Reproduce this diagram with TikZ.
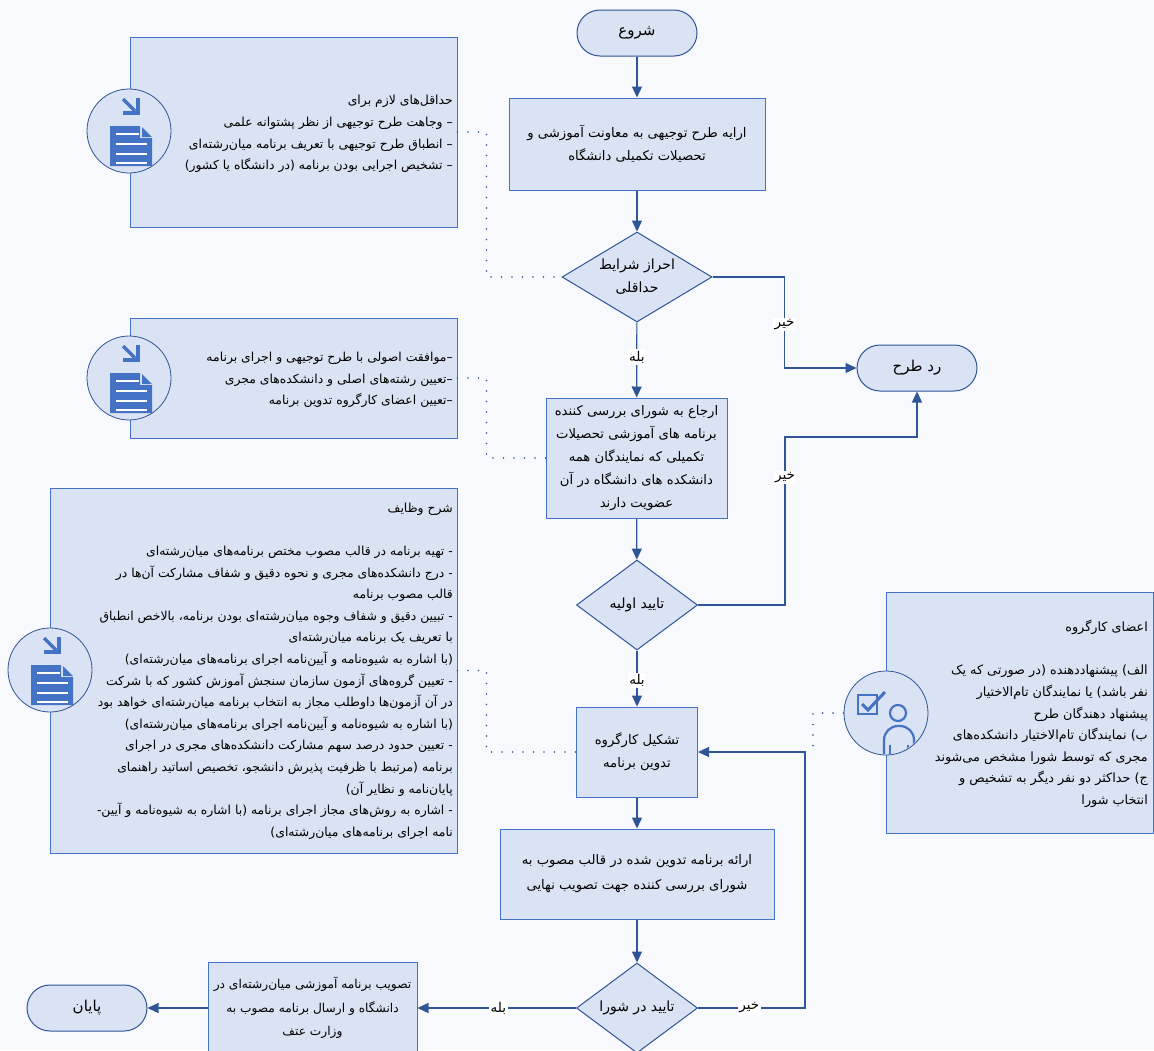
\documentclass[tikz,border=0pt]{standalone}
\usepackage{fontspec}
\usepackage{tikz}
\usetikzlibrary{arrows.meta,shapes.geometric}
\TeXXeTstate=1
\newfontfamily\farsi[Script=Arabic]{DejaVu Sans}
\newcommand{\fa}[1]{\beginR #1\endR}

\definecolor{bgc}{RGB}{247,249,252}
\definecolor{boxfill}{RGB}{218,227,243}
\definecolor{boxline}{RGB}{68,114,196}
\definecolor{linec}{RGB}{47,85,151}
\definecolor{iconc}{RGB}{68,114,196}

\tikzset{
  every node/.style={font=\farsi\fontsize{13.2}{23}\selectfont, text=black},
  proc/.style={draw=boxline, fill=boxfill, line width=1pt, align=center, inner sep=0pt},
  term/.style={draw=linec, fill=boxfill, line width=1pt, rounded corners=23pt, minimum width=120pt, minimum height=46pt, font=\farsi\fontsize{15}{18}\selectfont},
  decision/.style={diamond, aspect=1.667, draw=linec, fill=boxfill, line width=1pt, align=center, inner sep=-4pt, minimum height=90pt, font=\farsi\fontsize{14}{23}\selectfont},
  note/.style={draw=boxline, fill=boxfill, line width=1pt, inner sep=0pt},
  notetext/.style={align=right, anchor=east, inner sep=0pt, font=\farsi\fontsize{12.4}{21.6}\selectfont},
  iconring/.style={circle, draw=linec, fill=boxfill, line width=0.8pt, minimum size=84pt, inner sep=0pt},
  arr/.style={draw=linec, line width=1.2pt, -{Triangle[length=11pt,width=10pt]}},
  dots/.style={draw=linec, line width=1.8pt, line cap=round, dash pattern=on 0pt off 10.5pt},
  tag/.style={fill=white, inner sep=1.5pt, font=\farsi\fontsize{13.5}{15}\selectfont},
}

% document icon inside a ring
\newcommand{\docicon}[1]{%
  \begin{scope}[shift={(#1)}]
    \fill[iconc] (-19,-5) -- (11,-5) -- (11,7) -- (23,7) -- (23,35) -- (-19,35) -- cycle;
    \fill[iconc] (13,-4) -- (23,6) -- (13,6) -- cycle;
    \draw[white, line width=1.6pt] (-13,3) -- (10,3) (-13,13) -- (18,13) (-13,23) -- (18,23) (-13,32) -- (18,32);
    \draw[iconc, line width=3.5pt] (-6,-32) -- (6,-20);
    \draw[iconc, line width=3.5pt] (-6,-18) -- (9,-18) -- (9,-33);
  \end{scope}}

% check box and person icon
\newcommand{\personicon}[1]{%
  \begin{scope}[shift={(#1)}]
    \draw[iconc, line width=2.2pt] (-28,-18) rectangle (-9,1);
    \draw[iconc, line width=3pt] (-24,-9) -- (-18,-3) -- (-1,-21);
    \draw[iconc, line width=2.2pt] (12,0) circle (8pt);
    \begin{scope}
      \clip (0,0) circle (41pt);
      \draw[iconc, line width=2.2pt, rounded corners=14pt] (-2,50) -- (-2,13) -- (28,13) -- (28,50);
      \draw[iconc, line width=2.2pt] (4,32) -- (4,50) (22,32) -- (22,50);
    \end{scope}
  \end{scope}}

\begin{document}
\begin{tikzpicture}[x=1pt,y=-1pt]
\fill[bgc] (0,0) rectangle (1154,1050);
\useasboundingbox (0,0) rectangle (1154,1050);

% notes on the left and right
\node[note, minimum width=327pt, minimum height=190pt] (n1) at (293.5,132) {};
\node[note, minimum width=327pt, minimum height=120pt] (n2) at (293.5,378) {};
\node[note, minimum width=407pt, minimum height=365pt] (n3) at (253.5,670.5) {};
\node[note, minimum width=267pt, minimum height=241pt] (n4) at (1019.5,712.5) {};

\node[notetext] (n1t) at (453,134) {\fa{حداقل‌های لازم برای}\\
  \fa{– وجاهت طرح توجیهی از نظر پشتوانه علمی}\\
  \fa{– انطباق طرح توجیهی با تعریف برنامه میان‌رشته‌ای}\\
  \fa{– تشخیص اجرایی بودن برنامه (در دانشگاه یا کشور)}};
\node[notetext] (n2t) at (453,380) {\fa{–موافقت اصولی با طرح توجیهی و اجرای برنامه}\\
  \fa{–تعیین رشته‌های اصلی و دانشکده‌های مجری}\\
  \fa{–تعیین اعضای کارگروه تدوین برنامه}};
\node[notetext] (n3t) at (453,671) {\fa{شرح وظایف}\\[21.6pt]
  \fa{- تهیه برنامه در قالب مصوب مختص برنامه‌های میان‌رشته‌ای}\\
  \fa{- درج دانشکده‌های مجری و نحوه دقیق و شفاف مشارکت آن‌ها در}\\
  \fa{قالب مصوب برنامه}\\
  \fa{- تبیین دقیق و شفاف وجوه میان‌رشته‌ای بودن برنامه، بالاخص انطباق}\\
  \fa{با تعریف یک برنامه میان‌رشته‌ای}\\
  \fa{(با اشاره به شیوه‌نامه و آیین‌نامه اجرای برنامه‌های میان‌رشته‌ای)}\\
  \fa{- تعیین گروه‌های آزمون سازمان سنجش آموزش کشور که با شرکت}\\
  \fa{در آن آزمون‌ها داوطلب مجاز به انتخاب برنامه میان‌رشته‌ای خواهد بود}\\
  \fa{(با اشاره به شیوه‌نامه و آیین‌نامه اجرای برنامه‌های میان‌رشته‌ای)}\\
  \fa{- تعیین حدود درصد سهم مشارکت دانشکده‌های مجری در اجرای}\\
  \fa{برنامه (مرتبط با ظرفیت پذیرش دانشجو، تخصیص اساتید راهنمای}\\
  \fa{پایان‌نامه و نظایر آن)}\\
  \fa{- اشاره به روش‌های مجاز اجرای برنامه (با اشاره به شیوه‌نامه و آیین-}\\
  \fa{نامه اجرای برنامه‌های میان‌رشته‌ای)}};
\node[notetext, font=\farsi\fontsize{12.8}{21.6}\selectfont] (n4t) at (1148,714) {\fa{اعضای کارگروه}\\[21.6pt]
  \fa{الف) پیشنهاددهنده (در صورتی که یک}\\
  \fa{نفر باشد) یا نمایندگان تام‌الاختیار}\\
  \fa{پیشنهاد دهندگان طرح}\\
  \fa{ب) نمایندگان تام‌الاختیار دانشکده‌های}\\
  \fa{مجری که توسط شورا مشخص می‌شوند}\\
  \fa{ج) حداکثر دو نفر دیگر به تشخیص و}\\
  \fa{انتخاب شورا}};

% icons
\node[iconring] (ic1) at (129,131) {};
\node[iconring] (ic2) at (129,378) {};
\node[iconring] (ic3) at (50,670) {};
\node[iconring] (ic4) at (886,713) {};
\docicon{129,131}
\docicon{129,378}
\docicon{50,670}
\personicon{886,713}

% flow
\node[term] (start) at (637,33) {\fa{شروع}};
\node[proc, minimum width=256pt, minimum height=92pt] (b1) at (637,144) {\fa{ارایه طرح توجیهی به معاونت آموزشی و}\\\fa{تحصیلات تکمیلی دانشگاه}};
\node[decision, minimum width=150pt] (d1) at (637,277) {\fa{احراز شرایط}\\\fa{حداقلی}};
\node[term] (rad) at (917,368) {\fa{رد طرح}};
\node[proc, minimum width=181pt, minimum height=120pt] (b2) at (636.5,458) {\fa{ارجاع به شورای بررسی کننده}\\\fa{برنامه های آموزشی تحصیلات}\\\fa{تکمیلی که نمایندگان همه}\\\fa{دانشکده های دانشگاه در آن}\\\fa{عضویت دارند}};
\node[decision, minimum width=121pt] (d2) at (637,605) {\fa{تایید اولیه}};
\node[proc, minimum width=121pt, minimum height=90pt] (b3) at (637,752) {\fa{تشکیل کارگروه}\\\fa{تدوین برنامه}};
\node[proc, minimum width=274pt, minimum height=90pt, font=\farsi\fontsize{13.2}{25}\selectfont] (b4) at (637,874) {\fa{ارائه برنامه تدوین شده در قالب مصوب به}\\\fa{شورای بررسی کننده جهت تصویب نهایی}};
\node[decision, minimum width=121pt] (d3) at (637,1008) {\fa{تایید در شورا}};
\node[proc, minimum width=209pt, minimum height=92pt, font=\farsi\fontsize{12.2}{23.5}\selectfont] (b5) at (312.5,1008) {\fa{تصویب برنامه آموزشی میان‌رشته‌ای در}\\\fa{دانشگاه و ارسال برنامه مصوب به}\\\fa{وزارت عتف}};
\node[term] (end) at (87,1008) {\fa{پایان}};
\coordinate (fbj) at (813,752);

% dotted links
\draw[dots] (n1.east) -- ++(29,0) |- (d1.west);
\draw[dots] (n2.east) -- ++(29,0) |- (b2.west);
\draw[dots] (n3.east) -- ++(29,0) |- (b3.west);
\draw[dots] (ic4.west) -| (fbj);

% arrows
\draw[arr] (start) -- (b1);
\draw[arr] (b1) -- (d1);
\draw[arr] (d1.east) -- ++(72,0) |- node[tag, pos=0.26] {\fa{خیر}} (rad.west);
\draw[arr] (d1) -- node[tag, pos=0.46] {\fa{بله}} (b2);
\draw[arr] (b2) -- (d2);
\draw[arr] (d2.east) -- ++(87,0) -- node[tag, pos=0.76] {\fa{خیر}} ++(0,-168) -| (rad.south);
\draw[arr] (d2) -- node[tag, pos=0.53] {\fa{بله}} (b3);
\draw[arr] (b3) -- (b4);
\draw[arr] (b4) -- (d3);
\draw[arr] (d3.east) -- node[tag, pos=0.48] {\fa{خیر}} ++(107,0) |- (b3.east);
\draw[arr] (d3.west) -- node[tag, pos=0.49] {\fa{بله}} (b5.east);
\draw[arr] (b5.west) -- (end.east);
\end{tikzpicture}
\end{document}
